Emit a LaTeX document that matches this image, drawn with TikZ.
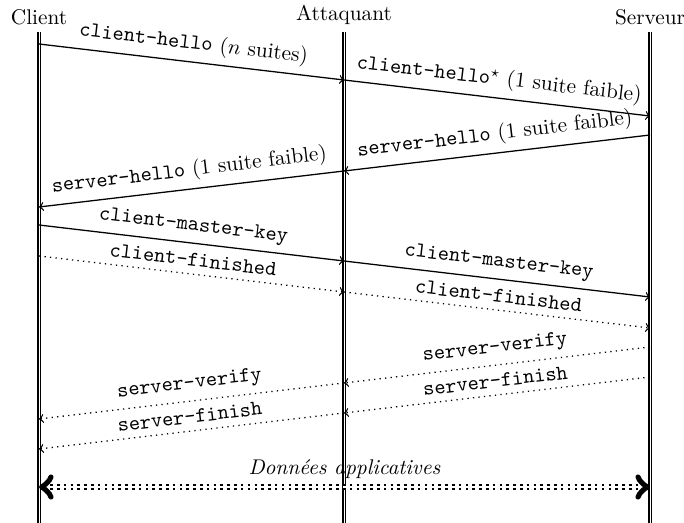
\documentclass[tikz,border=0pt]{standalone}
\usepackage{fontspec}
\usepackage{amsmath}
\usepackage{tikz}

\begin{document}
\begin{tikzpicture}[x=0.47pt, y=-0.47pt,
	vie/.style = {double, thick, double distance=0.4pt},
	msg/.style = {->, semithick},
	msgdot/.style = {->, dotted, semithick},
	lbl/.style = {midway, above, sloped}]
\useasboundingbox (0,0) rectangle (684,523);
\node[above] (c) at (39,32) {Client};
\node[above] (a) at (344,32) {Attaquant};
\node[above] (s) at (650,32) {Serveur};
\coordinate (c-bas) at (39,523);
\coordinate (a-bas) at (344,523);
\coordinate (s-bas) at (650,523);
\draw[vie] (c.south) -- (c-bas);
\draw[vie] (a.south) -- (a-bas);
\draw[vie] (s.south) -- (s-bas);
\coordinate (c-1) at (39,44);
\coordinate (a-1) at (344,80);
\coordinate (s-1) at (650,116);
\coordinate (s-2) at (650,135);
\coordinate (a-2) at (344,171);
\coordinate (c-2) at (39,207);
\coordinate (c-3) at (39,225);
\coordinate (a-3) at (344,261);
\coordinate (s-3) at (650,297);
\coordinate (c-4) at (39,256);
\coordinate (a-4) at (344,292);
\coordinate (s-4) at (650,328);
\coordinate (s-5) at (650,347);
\coordinate (a-5) at (344,383);
\coordinate (c-5) at (39,419);
\coordinate (s-6) at (650,377);
\coordinate (a-6) at (344,413);
\coordinate (c-6) at (39,449);
\coordinate (c-7) at (39,487);
\coordinate (s-7) at (650,487);
\draw[msg] (c-1) -- node[lbl] {\texttt{client-hello} ($n$ suites)} (a-1);
\draw[msg] (a-1) -- node[lbl] {\texttt{client-hello}$^\star$ (1 suite faible)} (s-1);
\draw[msg] (s-2) -- node[lbl] {\texttt{server-hello} (1 suite faible)} (a-2);
\draw[msg] (a-2) -- node[lbl] {\texttt{server-hello} (1 suite faible)} (c-2);
\draw[msg] (c-3) -- node[lbl] {\texttt{client-master-key}} (a-3);
\draw[msg] (a-3) -- node[lbl] {\texttt{client-master-key}} (s-3);
\draw[msgdot] (c-4) -- node[lbl] {\texttt{client-finished}} (a-4);
\draw[msgdot] (a-4) -- node[lbl] {\texttt{client-finished}} (s-4);
\draw[msgdot] (s-5) -- node[lbl] {\texttt{server-verify}} (a-5);
\draw[msgdot] (a-5) -- node[lbl] {\texttt{server-verify}} (c-5);
\draw[msgdot] (s-6) -- node[lbl] {\texttt{server-finish}} (a-6);
\draw[msgdot] (a-6) -- node[lbl] {\texttt{server-finish}} (c-6);
\draw[<->, double, dotted, very thick] (c-7) -- node[above] {\textit{Données applicatives}} (s-7);
\end{tikzpicture}
\end{document}
